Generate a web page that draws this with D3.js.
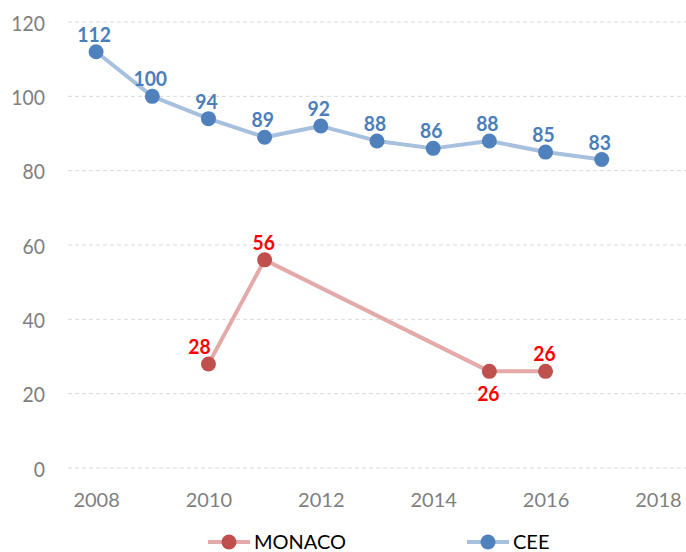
<!DOCTYPE html>
<html><head><meta charset="utf-8">
<script src="https://cdn.jsdelivr.net/npm/d3@7"></script>
<style>body{margin:0;background:#fff}svg{display:block}</style>
</head><body>
<svg id="c" width="686" height="552"></svg>
<script>
const years = [2008,2009,2010,2011,2012,2013,2014,2015,2016,2017];
const ceeValues = [112,100,94,89,92,88,86,88,85,83];
const monacoYears = [2010,2011,2015,2016];
const monacoValues = [28,56,26,26];
const monacoLabelPos = ["left","above","below","above"];
const yTicks = [0,20,40,60,80,100,120];
const xTicks = [2008,2010,2012,2014,2016,2018];
const seriesNames = ["MONACO","CEE"];

const FONT = "'Lato',sans-serif";
const svg = d3.select("#c");
const x = d3.scaleLinear().domain([2007.5,2018.5]).range([68,686]);
const y = d3.scaleLinear().domain([0,120]).range([468,22]);

function condense(sel, f){
  sel.each(function(){
    const w = this.getComputedTextLength();
    d3.select(this).attr("textLength", w*f).attr("lengthAdjust","spacingAndGlyphs");
  });
}

// gridlines
svg.append("g").selectAll("line").data(yTicks).join("line")
  .attr("x1",68).attr("x2",686).attr("y1",d=>y(d)).attr("y2",d=>y(d))
  .attr("stroke","#d9d9d9").attr("stroke-width",1).attr("stroke-dasharray","4,3");

// y axis labels
const yAxis = svg.append("g").attr("transform","translate(45,0)")
  .call(d3.axisLeft(y).tickValues(yTicks).tickSize(0).tickPadding(0));
yAxis.select(".domain").remove();
yAxis.selectAll("text").attr("font-family",FONT).attr("font-size",22).attr("fill","#7f7f7f")
  .attr("dy",8).call(condense,0.88);

// x axis labels
const xAxis = svg.append("g").attr("transform","translate(0,507)")
  .call(d3.axisBottom(x).tickValues(xTicks).tickFormat(d3.format("d")).tickSize(0).tickPadding(0));
xAxis.select(".domain").remove();
xAxis.selectAll("text").attr("font-family",FONT).attr("font-size",20).attr("fill","#7f7f7f")
  .attr("y",0).attr("dy",0);

const line = d3.line().x(d=>x(d[0])).y(d=>y(d[1]));

// CEE
const cee = years.map((yr,i)=>[yr,ceeValues[i]]);
svg.append("path").datum(cee).attr("d",line).attr("fill","none")
  .attr("stroke","#a7c0de").attr("stroke-width",4).attr("stroke-linejoin","round");
svg.append("g").selectAll("circle").data(cee).join("circle")
  .attr("cx",d=>x(d[0])).attr("cy",d=>y(d[1])).attr("r",7.5).attr("fill","#4f81bd");
svg.append("g").selectAll("text").data(cee).join("text")
  .attr("x",d=>x(d[0])-2).attr("y",d=>y(d[1])-10)
  .attr("text-anchor","middle").attr("font-family",FONT).attr("font-weight","bold")
  .attr("font-size",21).attr("fill","#4a7ebb").text(d=>d[1]).call(condense,0.92);

// MONACO
const mon = monacoYears.map((yr,i)=>[yr,monacoValues[i],monacoLabelPos[i]]);
svg.append("path").datum(mon).attr("d",line).attr("fill","none")
  .attr("stroke","#e3aaa9").attr("stroke-width",4).attr("stroke-linejoin","round");
svg.append("g").selectAll("circle").data(mon).join("circle")
  .attr("cx",d=>x(d[0])).attr("cy",d=>y(d[1])).attr("r",7.5).attr("fill","#c0504d");
svg.append("g").selectAll("text").data(mon).join("text")
  .attr("x",d=>x(d[0]) + (d[2]==="left"?-9:-1))
  .attr("y",d=>d[2]==="below"? y(d[1])+30 : y(d[1])-10)
  .attr("text-anchor","middle").attr("font-family",FONT).attr("font-weight","bold")
  .attr("font-size",21).attr("fill","#ff0000").text(d=>d[1]).call(condense,0.92);

// legend
const legend = [
  {name:seriesNames[0], lc:"#e3aaa9", mc:"#c0504d", x:208},
  {name:seriesNames[1], lc:"#a7c0de", mc:"#4f81bd", x:467}
];
const lg = svg.append("g").selectAll("g").data(legend).join("g")
  .attr("transform",d=>`translate(${d.x},542)`);
lg.append("line").attr("x1",0).attr("x2",42).attr("stroke",d=>d.lc).attr("stroke-width",4);
lg.append("circle").attr("cx",21).attr("r",7.5).attr("fill",d=>d.mc);
lg.append("text").attr("x",46).attr("y",7).attr("font-family",FONT).attr("font-size",20)
  .attr("fill","#000").text(d=>d.name);
</script>
</body></html>
